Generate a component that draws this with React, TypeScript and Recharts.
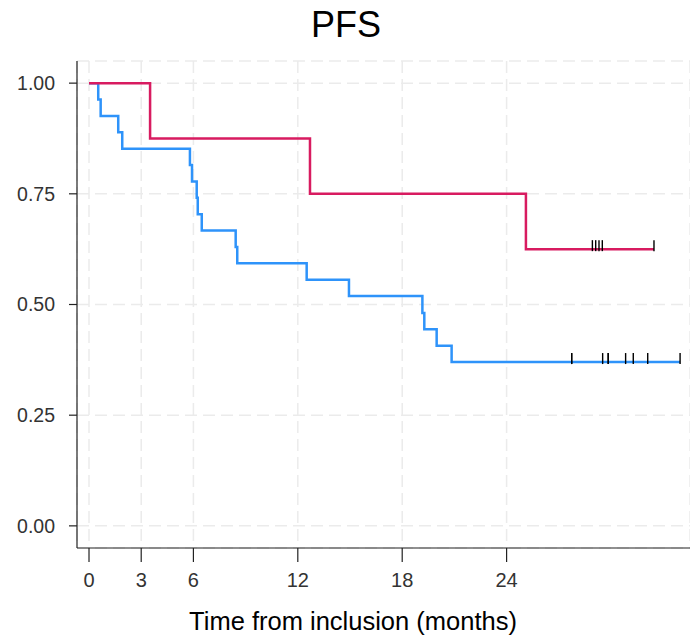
import React from "react";
import {
  ComposedChart,
  Line,
  Scatter,
  XAxis,
  YAxis,
  CartesianGrid,
} from "recharts";

interface Point {
  t: number;
  s: number;
}

// survival steps, group 1 (red)
const redTimes = [0, 3.51, 12.7, 25.11, 32.47];
const redSurv = [1.0, 0.875, 0.75, 0.625, 0.625];
const redCensorTimes = [28.93, 29.12, 29.31, 29.5, 32.47];
const redCensorSurv = 0.625;

// survival steps, group 2 (blue)
const blueTimes = [
  0, 0.53, 0.67, 1.68, 1.91, 5.8, 5.92, 6.19, 6.25, 6.48, 8.43, 8.52, 12.51,
  14.94, 19.16, 19.27, 19.98, 20.84, 33.97,
];
const blueSurv = [
  1.0, 0.963, 0.926, 0.889, 0.852, 0.815, 0.778, 0.741, 0.704, 0.667, 0.63,
  0.593, 0.556, 0.519, 0.481, 0.444, 0.407, 0.37, 0.37,
];
const blueCensorTimes = [27.74, 27.74, 29.52, 29.84, 29.84, 30.84, 31.28, 32.11, 33.97];
const blueCensorSurv = 0.37;

const xTicks = [0, 3, 6, 12, 18, 24];
const yTicks = [0, 0.25, 0.5, 0.75, 1];

const RED = "#D81B60";
const BLUE = "#2E93FA";
const FONT = '"Liberation Sans", Arial, sans-serif';

const toPoints = (ts: number[], ss: number[]): Point[] =>
  ts.map((t, i) => ({ t, s: ss[i] }));

const redCurve = toPoints(redTimes, redSurv);
const blueCurve = toPoints(blueTimes, blueSurv);
const redCensor = redCensorTimes.map((t) => ({ t, s: redCensorSurv }));
const blueCensor = blueCensorTimes.map((t) => ({ t, s: blueCensorSurv }));

const CensorMark = (props: any) => {
  const { cx, cy } = props;
  if (cx == null || cy == null) return null;
  return (
    <line x1={cx} x2={cx} y1={cy - 9} y2={cy + 2} stroke="#000" strokeWidth={1.4} />
  );
};

const tickStyle = { fontFamily: FONT, fill: "#333" };

export default function App() {
  return (
    <div style={{ position: "absolute", top: 0, left: 0, width: 690, height: 639, background: "#fff" }}>
      <div
        style={{
          position: "absolute",
          top: 7,
          left: 0,
          width: 692,
          textAlign: "center",
          fontFamily: FONT,
          fontSize: 36,
          lineHeight: "36px",
          color: "#000",
        }}
      >
        PFS
      </div>
      <ComposedChart
        width={690}
        height={639}
        margin={{ top: 61, right: 0, bottom: 0, left: 0 }}
      >
        <CartesianGrid stroke="#EBEBEB" strokeWidth={1.5} strokeDasharray="12 6" />
        <XAxis
          type="number"
          dataKey="t"
          domain={[-0.69, 34.54]}
          allowDataOverflow
          ticks={xTicks}
          height={91}
          tickSize={14}
          tickMargin={11}
          stroke="#222"
          strokeWidth={1.2}
          tick={{ ...tickStyle, fontSize: 20 }}
        />
        <YAxis
          type="number"
          dataKey="s"
          domain={[-0.05, 1.05]}
          allowDataOverflow
          ticks={yTicks}
          width={77}
          tickSize={8}
          tickMargin={14}
          stroke="#222"
          strokeWidth={1.2}
          tickFormatter={(v: number) => v.toFixed(2)}
          tick={{ ...tickStyle, fontSize: 19.5 }}
        />
        <Line
          data={blueCurve}
          dataKey="s"
          type="stepAfter"
          stroke={BLUE}
          strokeWidth={2.5}
          dot={false}
          activeDot={false}
          isAnimationActive={false}
        />
        <Line
          data={redCurve}
          dataKey="s"
          type="stepAfter"
          stroke={RED}
          strokeWidth={2.5}
          dot={false}
          activeDot={false}
          isAnimationActive={false}
        />
        <Scatter data={blueCensor} dataKey="s" shape={CensorMark} isAnimationActive={false} />
        <Scatter data={redCensor} dataKey="s" shape={CensorMark} isAnimationActive={false} />
      </ComposedChart>
      <div
        style={{
          position: "absolute",
          top: 608,
          left: 0,
          width: 706,
          textAlign: "center",
          fontFamily: FONT,
          fontSize: 25.5,
          lineHeight: "26px",
          color: "#000",
        }}
      >
        Time from inclusion (months)
      </div>
    </div>
  );
}
